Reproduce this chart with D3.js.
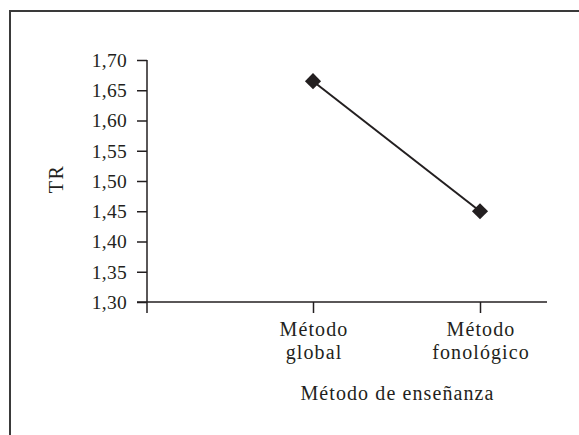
<!DOCTYPE html>
<html>
<head>
<meta charset="utf-8">
<script src="https://cdn.jsdelivr.net/npm/d3@7"></script>
<style>
  html, body { margin: 0; padding: 0; background: #fff; }
  svg { display: block; }
  text { font-family: "Liberation Serif", "Times New Roman", serif; fill: #231f20; }
</style>
</head>
<body>
<svg id="chart" width="579" height="435"></svg>
<script>
// Mean TR by teaching method
const categories = ["Método global", "Método fonológico"];
const categoryLines = [["Método", "global"], ["Método", "fonológico"]];
const values = [1.665, 1.45];
const yTicks = [1.30, 1.35, 1.40, 1.45, 1.50, 1.55, 1.60, 1.65, 1.70];
const yTitle = "TR";
const xTitle = "Método de enseñanza";

const ink = "#231f20";
const svg = d3.select("#chart");

// outer frame (top and left edges)
svg.append("path")
  .attr("d", "M10,440 L10,11 L590,11")
  .attr("fill", "none")
  .attr("stroke", "#3a3a3a")
  .attr("stroke-width", 2);

const plot = { left: 147, right: 547, top: 60, bottom: 302 };

const y = d3.scaleLinear().domain([1.30, 1.70]).range([plot.bottom, plot.top]);
const x = d3.scalePoint().domain(categories).range([313, 480]);

const comma = d3.formatLocale({ decimal: ",", thousands: ".", grouping: [3], currency: ["", ""] });
const fmt = comma.format(".2f");

// y axis
const yAxis = svg.append("g")
  .attr("transform", `translate(${plot.left},0)`)
  .call(d3.axisLeft(y).tickValues(yTicks).tickFormat(fmt).tickSize(10).tickPadding(10));
yAxis.select(".domain").remove();
yAxis.selectAll(".tick line").attr("stroke", ink).attr("stroke-width", 1.5);
yAxis.selectAll(".tick text")
  .attr("font-size", 19.5)
  .attr("letter-spacing", "0.3px")
  .style("font-family", "Liberation Serif")
  .attr("fill", ink);

svg.append("line")
  .attr("x1", plot.left).attr("x2", plot.left)
  .attr("y1", plot.top).attr("y2", plot.bottom + 11)
  .attr("stroke", ink).attr("stroke-width", 1.5);

// x axis
const xAxis = svg.append("g")
  .attr("transform", `translate(0,${plot.bottom})`)
  .call(d3.axisBottom(x).tickSize(11).tickFormat(""));
xAxis.select(".domain").remove();
xAxis.selectAll(".tick line").attr("stroke", ink).attr("stroke-width", 1.5);

svg.append("line")
  .attr("x1", plot.left - 10).attr("x2", plot.right)
  .attr("y1", plot.bottom).attr("y2", plot.bottom)
  .attr("stroke", ink).attr("stroke-width", 1.5);

// two-line category labels
categories.forEach((c, i) => {
  const t = svg.append("text")
    .attr("text-anchor", "middle")
    .attr("font-size", 20)
    .attr("letter-spacing", "1.1px")
    .attr("x", x(c) + 1)
    .attr("y", 336);
  categoryLines[i].forEach((line, j) => {
    t.append("tspan").attr("x", x(c) + 1).attr("dy", j === 0 ? 0 : 23).text(line);
  });
});

// axis titles
svg.append("text")
  .attr("text-anchor", "middle")
  .attr("font-size", 20)
  .attr("letter-spacing", "1.1px")
  .attr("x", (x(categories[0]) + x(categories[1])) / 2 + 1)
  .attr("y", 400)
  .text(xTitle);

svg.append("text")
  .attr("text-anchor", "middle")
  .attr("font-size", 20)
  .attr("letter-spacing", "1.5px")
  .attr("transform", `translate(63,${(plot.top + plot.bottom) / 2 - 2}) rotate(-90)`)
  .text(yTitle);

// line and markers
const pts = categories.map((c, i) => [x(c), y(values[i])]);
svg.append("path")
  .attr("d", d3.line()(pts))
  .attr("fill", "none")
  .attr("stroke", ink)
  .attr("stroke-width", 2);

svg.selectAll(".marker")
  .data(pts)
  .enter().append("path")
  .attr("class", "marker")
  .attr("d", d3.symbol().type(d3.symbolSquare).size(130))
  .attr("transform", d => `translate(${d[0]},${d[1]}) rotate(45)`)
  .attr("fill", ink);
</script>
</body>
</html>
